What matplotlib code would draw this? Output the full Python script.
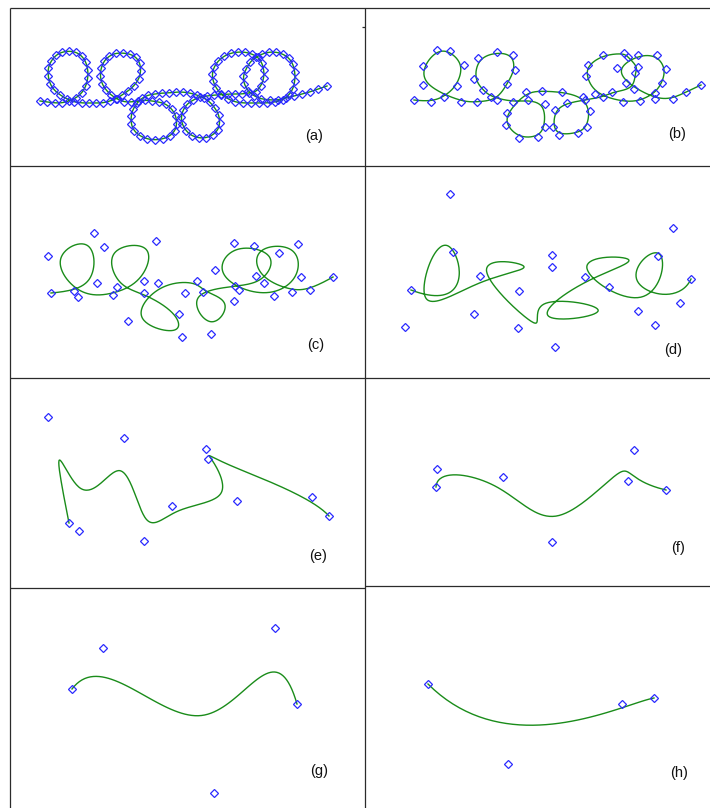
# -*- coding: utf-8 -*-

"""
    Multiresolution curve: control polygons at eight resolution levels and
    the endpoint-interpolating cubic B-spline each of them defines.
"""
import numpy as np
import matplotlib
matplotlib.use('Agg')
import matplotlib.pyplot as plt


# control points per level, pixel coordinates (y grows downwards)
pts_a = [(40, 101), (47, 102), (55, 103), (62, 103), (69, 101),
         (76, 98), (82, 93), (86, 86), (88, 78), (88, 70), (86, 62), (82, 56), (76, 52), (69, 51), (62, 52),
         (56, 55), (51, 61), (48, 68), (48, 76), (50, 84), (54, 90), (60, 95), (67, 99),
         (74, 102), (82, 103), (89, 103), (96, 103), (103, 103), (110, 101), (116, 99),
         (122, 95), (128, 91), (134, 86), (139, 79), (141, 71), (140, 63), (136, 57), (130, 54), (123, 53),
         (116, 53), (109, 56), (104, 61), (101, 68), (100, 76), (102, 84), (106, 90), (111, 95), (117, 99),
         (124, 102), (131, 102), (138, 101), (145, 100),
         (152, 101), (159, 102), (166, 104), (172, 109), (176, 116), (177, 124), (175, 131), (170, 136),
         (163, 139), (155, 140), (147, 139), (140, 136), (134, 131), (131, 124), (131, 116), (133, 109),
         (137, 103), (142, 98), (148, 95), (155, 94), (162, 93), (169, 93), (176, 92), (183, 92),
         (190, 93), (197, 95), (204, 98), (210, 102), (215, 108), (219, 115), (220, 123), (218, 130),
         (213, 135), (206, 138), (199, 138), (192, 136), (186, 131), (182, 124), (181, 117), (183, 110),
         (187, 104), (193, 100),
         (200, 97), (207, 96), (214, 95), (221, 95), (228, 94), (235, 94), (242, 94), (249, 93), (256, 92),
         (261, 86), (264, 78), (264, 70), (262, 63), (258, 57), (252, 54), (245, 52), (238, 52), (231, 53),
         (224, 56), (218, 61), (214, 67), (212, 74), (213, 81), (216, 88), (221, 94), (228, 99), (235, 102),
         (243, 103), (251, 103), (259, 103), (267, 103), (275, 102), (283, 100), (289, 95),
         (293, 89), (295, 81), (295, 72), (293, 64), (289, 58), (283, 54), (276, 52), (269, 52), (262, 54),
         (256, 57), (250, 62), (246, 69), (243, 76), (244, 84), (248, 91), (254, 96), (261, 99),
         (270, 100), (278, 100), (286, 98), (294, 96), (302, 94), (310, 92), (318, 89), (327, 86)]

pts_b = [(414, 100), (431, 102), (444, 97), (457, 86), (464, 65), (450, 51), (437, 50), (423, 66), (423, 85),
         (461, 102), (477, 102), (497, 100), (507, 84), (515, 70), (513, 55), (497, 52), (478, 58), (474, 79),
         (483, 90), (491, 97),
         (513, 102), (528, 100), (545, 104), (545, 127), (538, 137), (519, 138), (506, 125), (507, 113),
         (526, 92), (542, 91), (562, 92),
         (583, 97), (590, 111), (587, 127), (578, 133), (559, 135), (553, 127), (555, 110), (567, 103),
         (585, 100), (603, 97), (612, 92),
         (634, 89), (635, 73), (638, 67), (628, 57), (624, 53), (603, 55), (588, 65), (586, 76),
         (595, 94), (623, 102), (640, 101),
         (655, 93), (662, 83), (666, 69), (657, 55), (638, 55), (617, 68), (626, 83),
         (655, 99), (673, 99), (686, 92), (701, 85)]

pts_c = [(51, 293), (74, 291), (97, 283), (94, 233), (48, 256), (78, 297), (113, 295), (144, 281),
         (156, 241), (104, 247), (117, 287), (144, 293), (179, 314), (182, 337), (128, 321), (158, 283),
         (197, 281), (203, 292), (234, 301), (211, 334), (185, 293), (235, 286), (264, 283), (279, 253),
         (234, 243), (215, 270), (239, 290), (274, 296), (301, 277), (298, 244), (254, 246), (256, 276),
         (292, 292), (310, 290), (333, 277)]

pts_d = [(411, 290), (474, 314), (450, 194), (405, 327), (480, 276), (552, 267), (453, 252), (555, 347),
         (519, 291), (638, 311), (518, 328), (585, 277), (658, 256), (552, 255), (655, 325), (673, 228),
         (609, 287), (680, 303), (691, 279)]

pts_e = [(69, 523), (48, 417), (79, 531), (124, 438), (144, 541), (172, 506), (237, 501), (206, 449),
         (208, 459), (312, 497), (329, 516)]

pts_f = [(436, 487), (437, 469), (503, 477), (552, 542), (634, 450), (628, 481), (666, 490)]

pts_g = [(72, 689), (103, 648), (214, 793), (275, 628), (297, 704)]

pts_h = [(428, 684), (508, 764), (622, 704), (654, 698)]

levels = [pts_a, pts_b, pts_c, pts_d, pts_e, pts_f, pts_g, pts_h]
labels = ['(a)', '(b)', '(c)', '(d)', '(e)', '(f)', '(g)', '(h)']
label_xy = [(314, 136), (677, 134), (316, 345), (673, 350),
            (318, 556), (678, 548), (319, 771), (679, 773)]

CURVE_COLOR = '#1a8c1a'
POINT_COLOR = '#2a2aff'


def bspline_curve(ctrl, per_span=40):
    """
        endpoint-interpolating uniform cubic B-spline, evaluated with de Boor
    """
    p = np.asarray(ctrl, dtype=float)
    n = len(p)
    knots = np.concatenate([np.zeros(3), np.arange(n - 2), np.full(3, n - 3)])
    ts = np.linspace(0, n - 3, (n - 3) * per_span + 1)
    out = np.empty((len(ts), 2))
    for s, t in enumerate(ts):
        k = min(int(t) + 3, n - 1)
        d = [p[j + k - 3].copy() for j in range(4)]
        for r in range(1, 4):
            for j in range(3, r - 1, -1):
                a = (t - knots[j + k - 3]) / (knots[j + 1 + k - r] - knots[j + k - 3])
                d[j] = (1 - a) * d[j - 1] + a * d[j]
        out[s] = d[3]
    return out


def draw_frame(ax):
    # panel borders
    kw = dict(color='#2b2b2b', lw=0.9, solid_capstyle='butt')
    ax.plot([10, 710], [8, 8], **kw)
    ax.plot([10, 10], [8, 808], **kw)
    ax.plot([365, 365], [8, 808], **kw)
    ax.plot([10, 710], [166, 166], **kw)
    ax.plot([10, 710], [378, 378], **kw)
    ax.plot([10, 365], [588, 588], **kw)
    ax.plot([365, 710], [586, 586], **kw)
    # small stray mark left of the middle divider
    ax.plot([362, 365], [27, 27], **kw)


def main():
    fig = plt.figure(figsize=(7.1, 8.08), dpi=100)
    ax = fig.add_axes([0, 0, 1, 1])
    ax.set_xlim(0, 710)
    ax.set_ylim(808, 0)
    ax.axis('off')

    draw_frame(ax)

    for pts, lab, (lx, ly) in zip(levels, labels, label_xy):
        curve = bspline_curve(pts)
        ax.plot(curve[:, 0], curve[:, 1], color=CURVE_COLOR, lw=1.0, zorder=2)
        xs = [q[0] for q in pts]
        ys = [q[1] for q in pts]
        ax.plot(xs, ys, ls='none', marker='D', ms=3.7, mfc='none',
                mec=POINT_COLOR, mew=0.9, zorder=3)
        ax.text(lx, ly, lab, ha='center', va='center', fontsize=10.5,
                family=['Liberation Sans', 'DejaVu Sans'], color='#111111')

    fig.savefig('out.png', dpi=100, facecolor='white')


if __name__ == '__main__':
    main()
